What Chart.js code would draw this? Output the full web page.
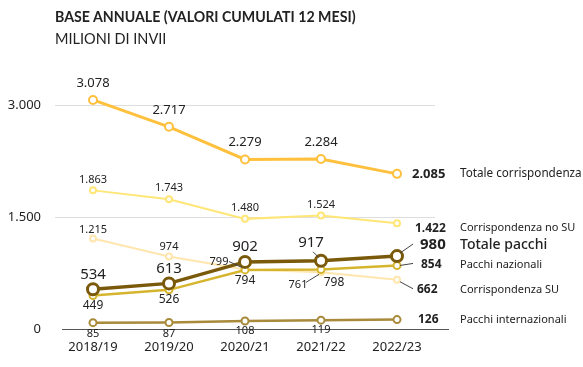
<!DOCTYPE html>
<html><head><meta charset="utf-8">
<script src="https://cdn.jsdelivr.net/npm/chart.js@4"></script>
<style>
html,body{margin:0;padding:0;background:#fff;}
#wrap{position:relative;width:583px;height:367px;}
#t1{position:absolute;left:55px;top:8px;font:bold 14.2px Lato, sans-serif;color:#222;}
#t2{position:absolute;left:55px;top:30px;font:14.5px Lato, sans-serif;color:#222;}
canvas{position:absolute;left:0;top:0;}
</style></head>
<body><div id="wrap"><canvas id="c" width="583" height="367"></canvas>
<div id="t1">BASE ANNUALE (VALORI CUMULATI 12 MESI)</div>
<div id="t2">MILIONI DI INVII</div></div>
<script>
const categories = ["2018/19","2019/20","2020/21","2021/22","2022/23"];
const totaleCorrispondenza = [3078, 2717, 2279, 2284, 2085];
const corrispondenzaNoSU = [1863, 1743, 1480, 1524, 1422];
const corrispondenzaSU = [1215, 974, 799, 761, 662];
const totalePacchi = [534, 613, 902, 917, 980];
const pacchiNazionali = [449, 526, 794, 798, 854];
const pacchiInternazionali = [85, 87, 108, 119, 126];
const yTicks = [0, 1500, 3000];
const seriesNames = ["Totale corrispondenza","Corrispondenza no SU","Corrispondenza SU","Totale pacchi","Pacchi nazionali","Pacchi internazionali"];

const fmt = v => v.toLocaleString('de-DE');
const FONT = "'Noto Sans', sans-serif";

const labelCfg = [
  {size:13, pts:[[0,-17],[0,-17],[0,-17],[0,-17]], last:{dx:15, dy:0, size:13, name:11.7}},
  {size:11, pts:[[0,-11],[0,-11],[0,-11],[0,-11]], last:{dx:18, dy:5, size:12, name:11}},
  {size:11, pts:[[0,-9],[0,-10],[-26,-8,[-16,-8,-3,-2]],[-23,12,[-15,10,-2,2]]], last:{dx:20, dy:10, size:12, name:11, lead:[3,2,16,9]}},
  {size:15, pts:[[0,-15],[0,-15],[0,-15],[-10,-18,[-8,-9,-2,-3]]], last:{dx:23, dy:-11, size:15, name:14, lead:[3,-3,16,-12]}},
  {size:12, pts:[[0,10],[0,10],[0,11],[13,13]], last:{dx:24, dy:-1, size:12, name:11, lead:[3,0,16,-2]}},
  {size:11, pts:[[0,11],[0,11],[0,10],[0,10]], last:{dx:21, dy:0, size:12, name:11}}
];

const labelPlugin = {
  id:'labels',
  afterDatasetsDraw(chart){
    const ctx = chart.ctx;
    const ca = chart.chartArea;
    const y0 = chart.scales.y.getPixelForValue(0);
    ctx.save();
    ctx.strokeStyle = '#555'; ctx.lineWidth = 1.2;
    ctx.beginPath(); ctx.moveTo(ca.left+7, y0+0.5); ctx.lineTo(ca.right+14, y0+0.5); ctx.stroke();
    ctx.restore();
    chart.data.datasets.forEach((ds, i) => {
      const meta = chart.getDatasetMeta(i);
      const cfg = labelCfg[i];
      ctx.save();
      ctx.fillStyle = '#222';
      ctx.textBaseline = 'middle';
      meta.data.forEach((pt, j) => {
        const v = ds.data[j];
        if (j < meta.data.length - 1) {
          const p = cfg.pts[j];
          ctx.font = cfg.size + 'px ' + FONT;
          ctx.textAlign = 'center';
          ctx.fillText(fmt(v), pt.x + p[0], pt.y + p[1]);
          if (p[2]) {
            ctx.strokeStyle = '#444'; ctx.lineWidth = 1;
            ctx.beginPath(); ctx.moveTo(pt.x + p[2][0], pt.y + p[2][1]); ctx.lineTo(pt.x + p[2][2], pt.y + p[2][3]); ctx.stroke();
          }
        } else {
          const L = cfg.last;
          ctx.font = 'bold ' + L.size + 'px ' + FONT;
          ctx.textAlign = 'left';
          ctx.fillText(fmt(v), pt.x + L.dx, pt.y + L.dy);
          if (L.lead) {
            ctx.strokeStyle = '#444'; ctx.lineWidth = 1;
            ctx.beginPath(); ctx.moveTo(pt.x + L.lead[0], pt.y + L.lead[1]); ctx.lineTo(pt.x + L.lead[2], pt.y + L.lead[3]); ctx.stroke();
          }
          ctx.font = (i===3 ? '500 ' : '') + L.name + 'px ' + FONT;
          ctx.fillText(ds.label, ca.right + 25, pt.y + L.dy);
        }
      });
      ctx.restore();
    });
  }
};

const colors = ['#FFC13D','#FFE676','#FFE6AE','#7A5A0A','#D6B52E','#A88A3A'];
const widths = [3,2,2,3.5,2.5,2.5];
const radii = [4,3,3,5.5,3.5,3.5];
const allData = [totaleCorrispondenza, corrispondenzaNoSU, corrispondenzaSU, totalePacchi, pacchiNazionali, pacchiInternazionali];

new Chart(document.getElementById('c'), {
  type:'line',
  data:{
    labels: categories,
    datasets: allData.map((d,i)=>({
      label: seriesNames[i],
      data: d,
      borderColor: colors[i],
      borderWidth: widths[i],
      pointRadius: radii[i],
      pointBorderWidth: i===3 ? 3 : 2,
      pointBackgroundColor:'#fff',
      pointBorderColor: colors[i],
      tension:0,
      order: [6,5,4,1,2,3][i]
    }))
  },
  options:{
    responsive:false, animation:false,
    layout:{padding:{top:76, right:148, left:0, bottom:0}},
    plugins:{legend:{display:false}, tooltip:{enabled:false}},
    scales:{
      x:{
        offset:true,
        grid:{display:false, drawTicks:false},
        border:{display:false},
        ticks:{color:'#222', font:{family:FONT, size:13}, padding:10},
        afterFit(s){ s.height = 38; }
      },
      y:{
        min:0, max:3400,
        afterBuildTicks(s){ s.ticks = yTicks.map(v=>({value:v})); },
        grid:{color:(c)=> c.tick && c.tick.value===0 ? 'rgba(0,0,0,0)' : '#dedede', drawTicks:false, lineWidth:1},
        border:{display:false},
        ticks:{color:'#222', font:{family:FONT, size:13}, padding:14, callback:(v)=>fmt(v)},
        afterFit(s){ s.width = 55; }
      }
    }
  },
  plugins:[labelPlugin]
});
</script></body></html>
